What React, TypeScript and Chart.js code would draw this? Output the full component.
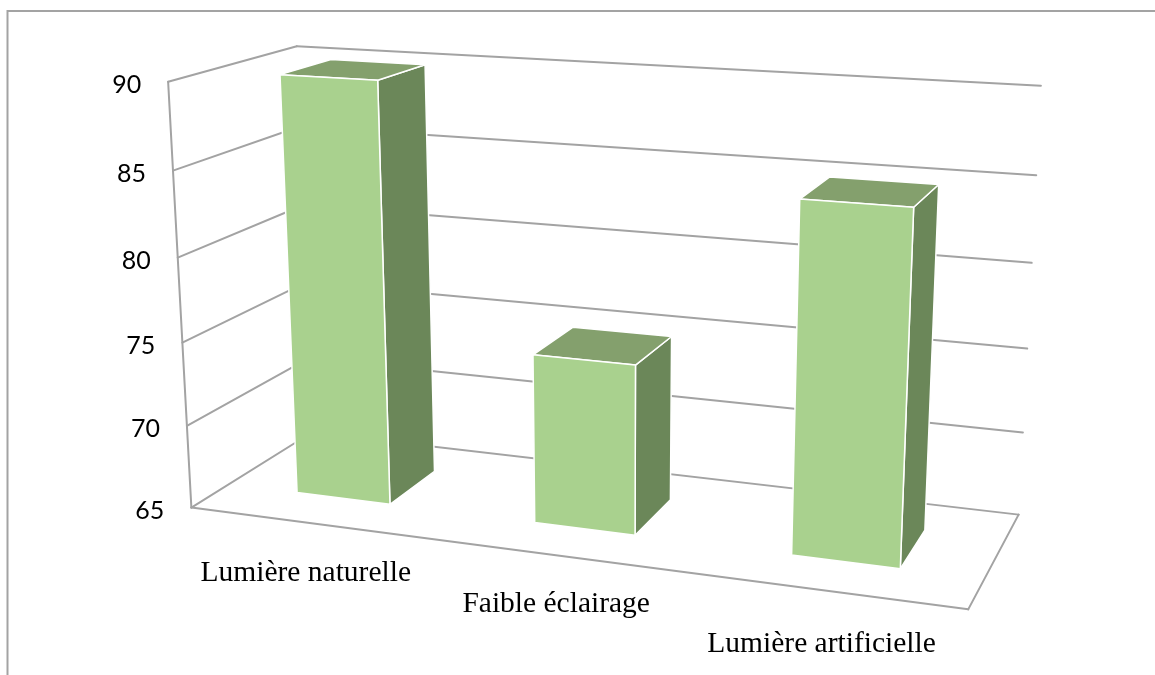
import React, { useEffect, useRef } from "react";
import { Chart, registerables } from "chart.js";

Chart.register(...registerables);

const categories = ["Lumière naturelle", "Faible éclairage", "Lumière artificielle"];
const values = [90, 75, 85];
const yMin = 65;
const yMax = 90;
const yStep = 5;

// Frame of the 3D box: [u, v, z] in the unit cube -> picture position.
const boxAnchors: number[][] = [
  [0, 0, 0, 191, 507],
  [0, 1, 0, 168, 82],
  [1, 0, 0, 969, 609],
  [1, 1, 0, 990, 132],
  [0, 0, 1, 312, 433],
  [0, 1, 1, 297, 46],
  [1, 0, 1, 1018, 515],
  [1, 1, 1, 1041, 85],
];
const barDepthFront = 0.293;
const barDepthBack = 0.71;
const labelOffsets = [
  [-2.5, 50],
  [0, 49],
  [-3.5, 54],
];

const LINE = "#a3a3a3";
const FRONT = "#a9d18e";
const TOP = "#84a06d";
const SIDE = "#6b8759";

function solveCamera(anchors: number[][]): number[] {
  const n = 11;
  const A: number[][] = Array.from({ length: n }, () => new Array(n + 1).fill(0));
  const add = (row: number[], rhs: number) => {
    for (let i = 0; i < n; i++) {
      for (let j = 0; j < n; j++) A[i][j] += row[i] * row[j];
      A[i][n] += row[i] * rhs;
    }
  };
  for (const [X, Y, Z, x, y] of anchors) {
    add([X, Y, Z, 1, 0, 0, 0, 0, -x * X, -x * Y, -x * Z], x);
    add([0, 0, 0, 0, X, Y, Z, 1, -y * X, -y * Y, -y * Z], y);
  }
  for (let c = 0; c < n; c++) {
    let best = c;
    for (let r = c + 1; r < n; r++) if (Math.abs(A[r][c]) > Math.abs(A[best][c])) best = r;
    [A[c], A[best]] = [A[best], A[c]];
    for (let r = 0; r < n; r++) {
      if (r === c) continue;
      const f = A[r][c] / A[c][c];
      for (let k = c; k <= n; k++) A[r][k] -= f * A[c][k];
    }
  }
  return A.map((row, i) => row[n] / row[i]);
}

const cam = solveCamera(boxAnchors);
function project(u: number, v: number, z: number): [number, number] {
  const w = cam[8] * u + cam[9] * v + cam[10] * z + 1;
  return [
    (cam[0] * u + cam[1] * v + cam[2] * z + cam[3]) / w,
    (cam[4] * u + cam[5] * v + cam[6] * z + cam[7]) / w,
  ];
}

function poly(ctx: CanvasRenderingContext2D, pts: [number, number][], fill: string) {
  ctx.beginPath();
  pts.forEach((p, i) => (i ? ctx.lineTo(p[0], p[1]) : ctx.moveTo(p[0], p[1])));
  ctx.closePath();
  ctx.fillStyle = fill;
  ctx.fill();
  ctx.strokeStyle = "#ffffff";
  ctx.lineWidth = 1.5;
  ctx.lineJoin = "round";
  ctx.stroke();
}

function segment(ctx: CanvasRenderingContext2D, a: [number, number], b: [number, number]) {
  ctx.beginPath();
  ctx.moveTo(a[0], a[1]);
  ctx.lineTo(b[0], b[1]);
  ctx.stroke();
}

const perspective3D = {
  id: "perspective3D",
  beforeDatasetsDraw(chart: any) {
    const { ctx, chartArea, scales } = chart;
    const vOf = (py: number) => (chartArea.bottom - py) / chartArea.height;
    ctx.save();
    // Page frame
    ctx.strokeStyle = LINE;
    ctx.lineWidth = 2;
    ctx.beginPath();
    ctx.moveTo(7.5, 675);
    ctx.lineTo(7.5, 11);
    ctx.lineTo(1155, 11);
    ctx.stroke();
    // Walls, floor and gridlines
    ctx.lineWidth = 2;
    ctx.lineCap = "round";
    ctx.lineJoin = "round";
    segment(ctx, project(0, 0, 0), project(0, 1, 0));
    segment(ctx, project(0, 0, 0), project(1, 0, 0));
    segment(ctx, project(1, 0, 0), project(1, 0, 1));
    for (const t of scales.y.ticks) {
      const v = vOf(scales.y.getPixelForValue(t.value));
      segment(ctx, project(0, v, 0), project(0, v, 1));
      segment(ctx, project(0, v, 1), project(1, v, 1));
    }
    // Y tick labels
    ctx.fillStyle = "#000000";
    ctx.font = "25px Lato";
    ctx.textAlign = "right";
    ctx.textBaseline = "middle";
    for (const t of scales.y.ticks) {
      const v = vOf(scales.y.getPixelForValue(t.value));
      const p = project(0, v, 0);
      ctx.fillText(String(t.value), p[0] - 27, p[1] + 3);
    }
    // X labels
    ctx.font = "29.5px 'Liberation Serif'";
    ctx.textAlign = "center";
    categories.forEach((label, i) => {
      const u = (scales.x.getPixelForValue(i) - chartArea.left) / chartArea.width;
      const p = project(u, 0, 0);
      ctx.fillText(label, p[0] + labelOffsets[i][0], p[1] + labelOffsets[i][1]);
    });
    ctx.restore();
  },
  beforeDatasetDraw(chart: any, args: any) {
    const { ctx, chartArea } = chart;
    ctx.save();
    for (const el of args.meta.data) {
      const u0 = (el.x - el.width / 2 - chartArea.left) / chartArea.width;
      const u1 = (el.x + el.width / 2 - chartArea.left) / chartArea.width;
      const v1 = (chartArea.bottom - el.y) / chartArea.height;
      const v0 = (chartArea.bottom - el.base) / chartArea.height;
      const z0 = barDepthFront;
      const z1 = barDepthBack;
      poly(ctx, [project(u1, v0, z0), project(u1, v1, z0), project(u1, v1, z1), project(u1, v0, z1)], SIDE);
      poly(ctx, [project(u0, v1, z0), project(u1, v1, z0), project(u1, v1, z1), project(u0, v1, z1)], TOP);
      poly(ctx, [project(u0, v0, z0), project(u1, v0, z0), project(u1, v1, z0), project(u0, v1, z0)], FRONT);
    }
    ctx.restore();
    return false;
  },
};

export default function App() {
  const ref = useRef<HTMLCanvasElement>(null);
  useEffect(() => {
    const chart = new Chart(ref.current!, {
      type: "bar",
      data: {
        labels: categories,
        datasets: [{ data: values, base: yMin, backgroundColor: FRONT, barPercentage: 0.4, categoryPercentage: 1 }],
      },
      options: {
        responsive: false,
        animation: false,
        layout: { padding: 0 },
        plugins: { legend: { display: false }, tooltip: { enabled: false } },
        scales: {
          x: { display: false },
          y: { display: false, min: yMin, max: yMax, ticks: { stepSize: yStep } },
        },
      },
      plugins: [perspective3D],
    } as any);
    return () => chart.destroy();
  }, []);
  return (
    <div style={{ position: "fixed", left: 0, top: 0, width: 1155, height: 675, background: "#fff" }}>
      <canvas ref={ref} width={1155} height={675} style={{ display: "block" }} />
    </div>
  );
}
